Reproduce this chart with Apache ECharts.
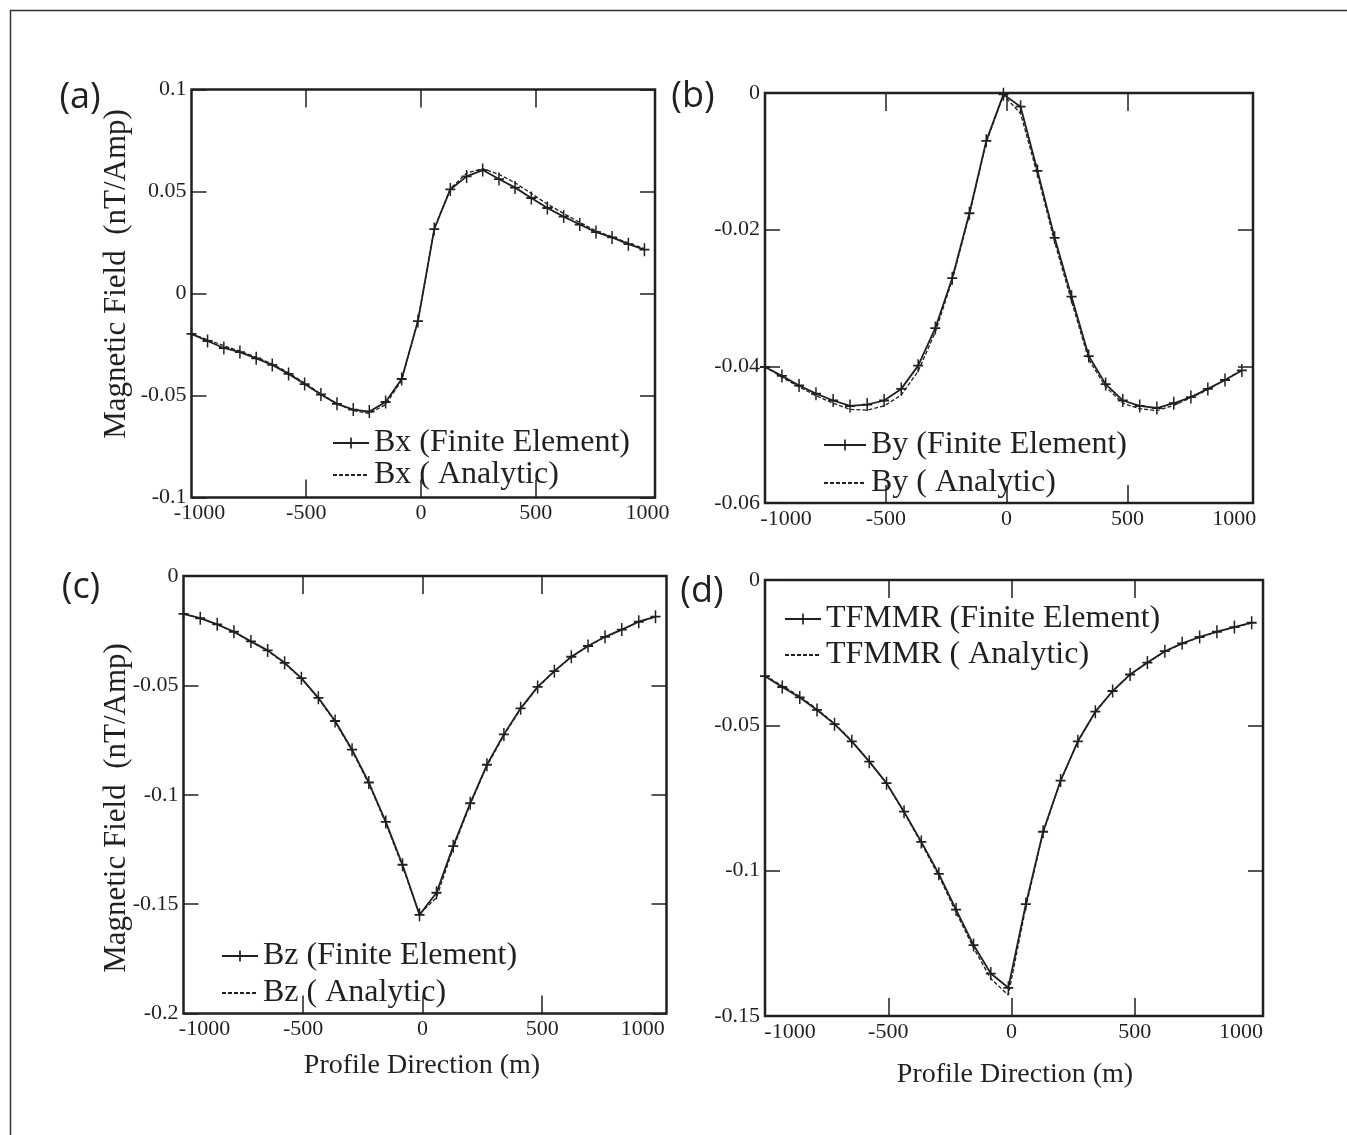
<!DOCTYPE html>
<html><head><meta charset="utf-8">
<script src="https://cdn.jsdelivr.net/npm/echarts@6/dist/echarts.min.js"></script>
<style>html,body{margin:0;padding:0;background:#fff}#c{width:1347px;height:1135px}</style>
</head><body><div id="c"></div>
<script>
// Profile positions (m)
const profileX = [-1000, -930, -859, -789, -718, -648, -577, -507, -436, -366, -295, -225, -154, -84, -13, 58, 128, 199, 269, 340, 410, 481, 551, 622, 692, 763, 833, 904, 974];

// (a) Bx
const bxFE = [-0.0198, -0.0233, -0.0267, -0.0287, -0.0318, -0.0350, -0.0394, -0.0444, -0.0495, -0.0541, -0.0569, -0.0579, -0.0532, -0.0419, -0.0135, 0.0316, 0.0510, 0.0574, 0.0605, 0.0561, 0.0519, 0.0468, 0.0419, 0.0377, 0.0338, 0.0301, 0.0275, 0.0242, 0.0215];
const bxAn = [-0.0200, -0.0226, -0.0256, -0.0283, -0.0312, -0.0345, -0.0389, -0.0439, -0.0492, -0.0540, -0.0574, -0.0588, -0.0545, -0.0425, -0.0130, 0.0318, 0.0514, 0.0590, 0.0612, 0.0584, 0.0543, 0.0490, 0.0438, 0.0392, 0.0348, 0.0308, 0.0277, 0.0248, 0.0220];
// (b) By
const byFE = [-0.0401, -0.0414, -0.0428, -0.0440, -0.0450, -0.0458, -0.0456, -0.0450, -0.0433, -0.0399, -0.0344, -0.0271, -0.0176, -0.0070, -0.0002, -0.0020, -0.0114, -0.0212, -0.0298, -0.0385, -0.0426, -0.0450, -0.0458, -0.0461, -0.0454, -0.0445, -0.0433, -0.0420, -0.0406];
const byAn = [-0.0400, -0.0416, -0.0430, -0.0443, -0.0454, -0.0463, -0.0464, -0.0458, -0.0442, -0.0407, -0.0350, -0.0274, -0.0178, -0.0072, -0.0003, -0.0030, -0.0120, -0.0218, -0.0305, -0.0390, -0.0430, -0.0454, -0.0462, -0.0465, -0.0457, -0.0446, -0.0434, -0.0420, -0.0405];
// (c) Bz
const bzFE = [-0.0173, -0.0193, -0.0221, -0.0255, -0.0299, -0.0340, -0.0397, -0.0467, -0.0557, -0.0663, -0.0794, -0.0944, -0.1124, -0.1320, -0.1549, -0.1448, -0.1235, -0.1039, -0.0863, -0.0724, -0.0605, -0.0507, -0.0435, -0.0369, -0.0320, -0.0278, -0.0245, -0.0209, -0.0186];
const bzAn = [-0.0173, -0.0194, -0.0222, -0.0256, -0.0300, -0.0342, -0.0399, -0.0469, -0.0560, -0.0667, -0.0799, -0.0950, -0.1130, -0.1328, -0.1545, -0.1470, -0.1245, -0.1045, -0.0868, -0.0728, -0.0608, -0.0509, -0.0436, -0.0370, -0.0321, -0.0279, -0.0246, -0.0210, -0.0187];
// (d) TFMMR
const tfFE = [-0.0331, -0.0368, -0.0404, -0.0447, -0.0496, -0.0555, -0.0625, -0.0699, -0.0797, -0.0901, -0.1011, -0.1134, -0.1256, -0.1354, -0.1403, -0.1115, -0.0866, -0.0690, -0.0555, -0.0453, -0.0382, -0.0325, -0.0284, -0.0245, -0.0218, -0.0196, -0.0178, -0.0162, -0.0147];
const tfAn = [-0.0329, -0.0364, -0.0400, -0.0444, -0.0494, -0.0553, -0.0624, -0.0700, -0.0800, -0.0906, -0.1018, -0.1143, -0.1266, -0.1372, -0.1428, -0.1125, -0.0870, -0.0692, -0.0556, -0.0454, -0.0383, -0.0326, -0.0285, -0.0246, -0.0219, -0.0197, -0.0179, -0.0163, -0.0148];

// Tick values
const xLabelTicks = [-1000, -500, 0, 500, 1000];
const xInnerTicks = [-500, 0, 500];

const panelLabels = ['(a)', '(b)', '(c)', '(d)'];
const legendNames = [
  ['Bx (Finite Element)', 'Bx ( Analytic)'],
  ['By (Finite Element)', 'By ( Analytic)'],
  ['Bz (Finite Element)', 'Bz ( Analytic)'],
  ['TFMMR (Finite Element)', 'TFMMR ( Analytic)']
];
const yRanges = [[-0.1, 0.1, 0.05], [-0.06, 0, 0.02], [-0.2, 0, 0.05], [-0.15, 0, 0.05]];
const yTitle = 'Magnetic Field  (nT/Amp)';
const xTitle = 'Profile Direction (m)';

const INK = '#231f20';
const SERIF = '"Liberation Serif","Times New Roman",serif';
const grids = [
  {left: 191.5, top: 89.5, width: 463.5, height: 408},
  {left: 765, top: 93, width: 488, height: 410},
  {left: 183.5, top: 576, width: 483, height: 437.5},
  {left: 765, top: 580, width: 498, height: 436}
];
const labelPad = [[16, 6], [42, 28], [42, 38], [50, 34]];
const legendPos = [
  {left: 332, top: 427, gap: 0, w: 36},
  {left: 823, top: 429, gap: 6, w: 42},
  {left: 221, top: 940, gap: 5, w: 36},
  {left: 784, top: 603, gap: 4, w: 36}
];
const plusPath = 'path://M4.25,0 H5.75 V4.3 H10 V5.7 H5.75 V10 H4.25 V5.7 H0 V4.3 H4.25 Z';
const feData = [bxFE, byFE, bzFE, tfFE];
const anData = [bxAn, byAn, bzAn, tfAn];

const xAxes = [], yAxes = [], series = [], legends = [];
grids.forEach((g, i) => {
  const tick = {inside: true, length: 18, customValues: xInnerTicks, lineStyle: {color: INK, width: 1.5}};
  const rich = {
    l: {padding: [0, 0, 0, labelPad[i][0]], fontFamily: SERIF, fontSize: 22, color: INK},
    r: {padding: [0, labelPad[i][1], 0, 0], fontFamily: SERIF, fontSize: 22, color: INK}
  };
  const noLine = {show: false, onZero: false};
  xAxes.push({
    type: 'value', gridIndex: i, min: -1000, max: 1020, interval: 500, position: 'bottom',
    axisLine: noLine, axisTick: tick, splitLine: {show: false},
    axisLabel: {
      fontFamily: SERIF, fontSize: 22, color: INK, margin: 5, customValues: xLabelTicks,
      showMinLabel: true, showMaxLabel: true,
      formatter: v => v === -1000 ? '{l|-1000}' : (v === 1000 ? '{r|1000}' : String(v)), rich: rich
    }
  });
  xAxes.push({
    type: 'value', gridIndex: i, min: -1000, max: 1020, interval: 500, position: 'top',
    axisLine: noLine, axisTick: tick, splitLine: {show: false}, axisLabel: {show: false}
  });
  const yr = yRanges[i];
  const ytick = {inside: true, length: 15, lineStyle: {color: INK, width: 1.5}};
  yAxes.push({
    type: 'value', gridIndex: i, min: yr[0], max: yr[1], interval: yr[2], position: 'left',
    axisLine: noLine, axisTick: ytick, splitLine: {show: false},
    axisLabel: {fontFamily: SERIF, fontSize: 22, color: INK, margin: 5, showMinLabel: true, showMaxLabel: true,
      formatter: v => String(+v.toFixed(3))}
  });
  yAxes.push({
    type: 'value', gridIndex: i, min: yr[0], max: yr[1], interval: yr[2], position: 'right',
    axisLine: noLine, axisTick: ytick, splitLine: {show: false}, axisLabel: {show: false}
  });
  series.push({
    name: legendNames[i][1], type: 'line', xAxisIndex: 2 * i, yAxisIndex: 2 * i,
    data: profileX.map((x, k) => [x, anData[i][k]]),
    symbol: 'none', lineStyle: {color: INK, width: 1.3, type: [4, 2]}, itemStyle: {color: INK},
    z: 2, silent: true, animation: false
  });
  series.push({
    name: legendNames[i][0], type: 'line', xAxisIndex: 2 * i, yAxisIndex: 2 * i,
    data: profileX.map((x, k) => [x, feData[i][k]]),
    symbol: plusPath, symbolSize: [10, 13], showSymbol: true,
    lineStyle: {color: INK, width: 1.8}, itemStyle: {color: INK},
    z: 3, silent: true, animation: false
  });
  const lp = legendPos[i];
  legends.push({
    left: lp.left, top: lp.top, orient: 'vertical', itemWidth: lp.w, itemHeight: 14, itemGap: lp.gap,
    padding: 0, selectedMode: false,
    data: [
      {name: legendNames[i][0]},
      {name: legendNames[i][1], itemStyle: {opacity: 0}}
    ],
    textStyle: {fontFamily: SERIF, fontSize: 32, color: INK, lineHeight: 26}
  });
});

const graphics = [
  {type: 'rect', shape: {x: 10.5, y: 10.5, width: 1400, height: 1200}, style: {fill: 'none', stroke: '#333', lineWidth: 1.5}, silent: true},
  {type: 'text', x: 80, y: 98, style: {text: panelLabels[0], font: '36px "Open Sans"', fill: INK, textAlign: 'center', textVerticalAlign: 'middle'}},
  {type: 'text', x: 693, y: 97, style: {text: panelLabels[1], font: '36px "Open Sans"', fill: INK, textAlign: 'center', textVerticalAlign: 'middle'}},
  {type: 'text', x: 81, y: 588, style: {text: panelLabels[2], font: '36px "Open Sans"', fill: INK, textAlign: 'center', textVerticalAlign: 'middle'}},
  {type: 'text', x: 702, y: 592, style: {text: panelLabels[3], font: '36px "Open Sans"', fill: INK, textAlign: 'center', textVerticalAlign: 'middle'}},
  {type: 'text', x: 117, y: 274, rotation: Math.PI / 2, style: {text: yTitle, font: '31px "Liberation Serif"', fill: INK, textAlign: 'center', textVerticalAlign: 'middle'}},
  {type: 'text', x: 117, y: 808, rotation: Math.PI / 2, style: {text: yTitle, font: '31px "Liberation Serif"', fill: INK, textAlign: 'center', textVerticalAlign: 'middle'}},
  {type: 'text', x: 422, y: 1066, style: {text: xTitle, font: '28px "Liberation Serif"', fill: INK, textAlign: 'center', textVerticalAlign: 'middle'}},
  {type: 'text', x: 1015, y: 1075, style: {text: xTitle, font: '28px "Liberation Serif"', fill: INK, textAlign: 'center', textVerticalAlign: 'middle'}}
];

const chart = echarts.init(document.getElementById('c'), null, {renderer: 'canvas'});
chart.setOption({
  animation: false,
  backgroundColor: '#fff',
  grid: grids.map(g => Object.assign({show: true, borderColor: INK, borderWidth: 2.5, backgroundColor: 'transparent', containLabel: false, outerBoundsMode: 'none'}, g)),
  xAxis: xAxes,
  yAxis: yAxes,
  legend: legends,
  series: series,
  graphic: graphics
});
</script></body></html>
